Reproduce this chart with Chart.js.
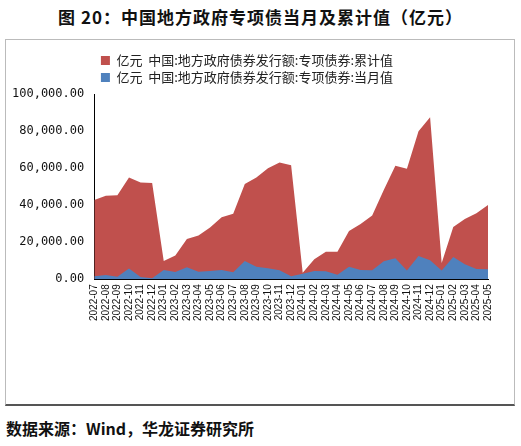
<!DOCTYPE html>
<html><head><meta charset="utf-8">
<script src="https://cdn.jsdelivr.net/npm/chart.js@4"></script>
<style>
body{margin:0;width:521px;height:446px;background:#fff;position:relative;font-family:"Noto Sans CJK SC",sans-serif;overflow:hidden}
#title{position:absolute;left:0;width:521px;top:4px;text-align:center;font-size:17px;font-weight:bold;color:#111;letter-spacing:1px}
#box{position:absolute;left:5px;top:39px;width:508px;height:364px;border:1px solid #bbb;border-bottom:2px solid #555}
#wrap{position:absolute;left:0;top:0;width:508px;height:364px}
#foot{position:absolute;left:6px;top:416px;font-size:16px;font-weight:bold;color:#111}
</style></head><body>
<div id="title">图 20：中国地方政府专项债当月及累计值（亿元）</div>
<div id="box"><div id="wrap"><canvas id="c"></canvas></div></div>
<div id="foot">数据来源：Wind，华龙证券研究所</div>
<script>
const categories=["2022-07","2022-08","2022-09","2022-10","2022-11","2022-12","2023-01","2023-02","2023-03","2023-04","2023-05","2023-06","2023-07","2023-08","2023-09","2023-10","2023-11","2023-12","2024-01","2024-02","2024-03","2024-04","2024-05","2024-06","2024-07","2024-08","2024-09","2024-10","2024-11","2024-12","2025-01","2025-02","2025-03","2025-04","2025-05"];
const cumulative=[42800,45100,45300,55000,52200,52000,9900,12900,21800,23600,27900,33500,35400,51400,55000,59900,63100,61500,3600,10800,14900,14900,26100,29900,34400,48200,61300,59700,79900,87400,8800,28200,32600,35600,40100];
const monthly=[1600,2300,1400,5800,1300,500,5000,4000,6500,4100,4500,5000,3800,9900,6800,5900,4900,1600,3000,4500,4300,2500,6800,5000,4900,9700,11300,4700,12600,10300,4700,12100,8100,5600,5400];
const yTicks=[0,20000,40000,60000,80000,100000];
const labelCum="亿元  中国:地方政府债券发行额:专项债券:累计值";
const labelMon="亿元  中国:地方政府债券发行额:专项债券:当月值";
new Chart(document.getElementById('c'),{
 type:'line',
 data:{labels:categories,datasets:[
  {label:labelCum,data:cumulative,backgroundColor:'#c0504d',borderColor:'#c0504d',borderWidth:0,fill:'origin',pointRadius:0,order:1},
  {label:labelMon,data:monthly,backgroundColor:'#4f81bd',borderColor:'#4f81bd',borderWidth:0,fill:'origin',pointRadius:0,order:0}
 ]},
 options:{responsive:true,maintainAspectRatio:false,animation:false,
  layout:{padding:{left:0,right:26,top:10,bottom:82}},
  plugins:{tooltip:{enabled:false},
   legend:{position:'top',align:'center',labels:{sort:(a,b)=>a.datasetIndex-b.datasetIndex,boxWidth:9,boxHeight:9,padding:4,color:'#222',font:{family:"Noto Sans CJK SC",size:13}}}},
  scales:{
   x:{offset:false,grid:{display:false,drawTicks:true,tickLength:4,tickColor:'#000'},border:{color:'#000'},
      ticks:{autoSkip:false,maxRotation:90,minRotation:90,color:'#111',padding:1,font:{family:"Liberation Sans",size:10}}},
   y:{min:0,max:100000,afterBuildTicks:a=>{a.ticks=yTicks.map(v=>({value:v}));},
      grid:{display:false,drawTicks:true,tickLength:4,tickColor:'#000'},border:{color:'#000'},
      ticks:{color:'#111',padding:6,font:{family:"DejaVu Sans Mono",size:12},
        callback:v=>v.toLocaleString('en-US',{minimumFractionDigits:2,maximumFractionDigits:2})}}
  }}
});
</script></body></html>
